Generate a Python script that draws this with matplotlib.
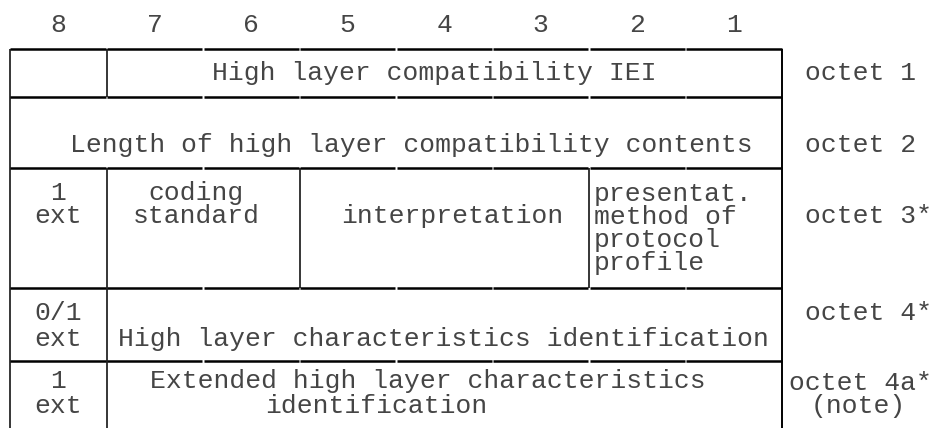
"""High layer compatibility information element - octet layout diagram."""
import matplotlib
matplotlib.use('Agg')
import matplotlib.pyplot as plt

# ---- content -------------------------------------------------------------
bits = ['8', '7', '6', '5', '4', '3', '2', '1']
octet_labels = ['octet 1', 'octet 2', 'octet 3*', 'octet 4*', 'octet 4a*', '(note)']
row1_text = 'High layer compatibility IEI'
row2_text = 'Length of high layer compatibility contents'
row3_texts = ['1', 'ext', 'coding', 'standard', 'interpretation',
              'presentat.', 'method of', 'protocol', 'profile']
row4_texts = ['0/1', 'ext', 'High layer characteristics identification']
row5_texts = ['1', 'ext', 'Extended high layer characteristics', 'identification']

# ---- layout (pixels, y downwards) ---------------------------------------
W, H = 932, 428
X0, CW = 10.0, 96.5
xe = [X0 + CW * i for i in range(9)]          # bit column edges
ye = [49, 97, 168, 288, 361, H]                # row edges

fig = plt.figure(figsize=(W / 100, H / 100), dpi=100)
ax = fig.add_axes([0, 0, 1, 1])
ax.set_xlim(0, W); ax.set_ylim(H, 0); ax.axis('off')

FONT = dict(family='Liberation Mono', fontsize=19, color='#454545')
def txt(x, y, s, ha='center'):
    ax.text(x, y, s, ha=ha, va='baseline', **FONT)

HLW, VLW = 1.8, 1.1
# horizontal rules, broken at every bit boundary
for y in ye[:-1]:
    for i in range(8):
        a = xe[i] + (0.8 if i > 0 else 0)
        b = xe[i + 1] - (0.8 if i < 7 else 0)
        ax.plot([a, b], [y, y], color='k', lw=HLW, solid_capstyle='butt')

def vline(x, r0, r1, lw=VLW):
    ax.plot([x, x], [ye[r0], ye[r1]], color='k', lw=lw, solid_capstyle='butt')

vline(xe[0], 0, 5)
vline(xe[8], 0, 5, lw=1.4)
for r in (0, 2, 3, 4):
    vline(xe[1], r, r + 1)
vline(xe[3], 2, 3)
vline(xe[6], 2, 3)

# bit numbers
for i, b in enumerate(bits):
    txt((xe[i] + xe[i + 1]) / 2, 32, b)

# row 1
txt(434, 80, row1_text)
# row 2
txt(411, 152, row2_text)
# row 3
c8 = (xe[0] + xe[1]) / 2
txt(c8, 200, row3_texts[0]); txt(c8, 223, row3_texts[1])
txt(196, 200, row3_texts[2]); txt(196, 223, row3_texts[3])
txt(452, 223, row3_texts[4])
for k, s in enumerate(row3_texts[5:]):
    txt(594, 201 + 23 * k, s, ha='left')
# row 4
txt(c8, 320, row4_texts[0]); txt(c8, 346, row4_texts[1])
txt(443, 346, row4_texts[2])
# row 5
txt(c8, 388, row5_texts[0]); txt(c8, 413, row5_texts[1])
txt(428, 388, row5_texts[2]); txt(376, 413, row5_texts[3])

# octet labels on the right
for s, y in zip(octet_labels[:4], (80, 152, 223, 320)):
    txt(805, y, s, ha='left')
txt(789, 390, octet_labels[4], ha='left')
txt(811, 413, octet_labels[5], ha='left')

fig.savefig('out.png', dpi=100)
